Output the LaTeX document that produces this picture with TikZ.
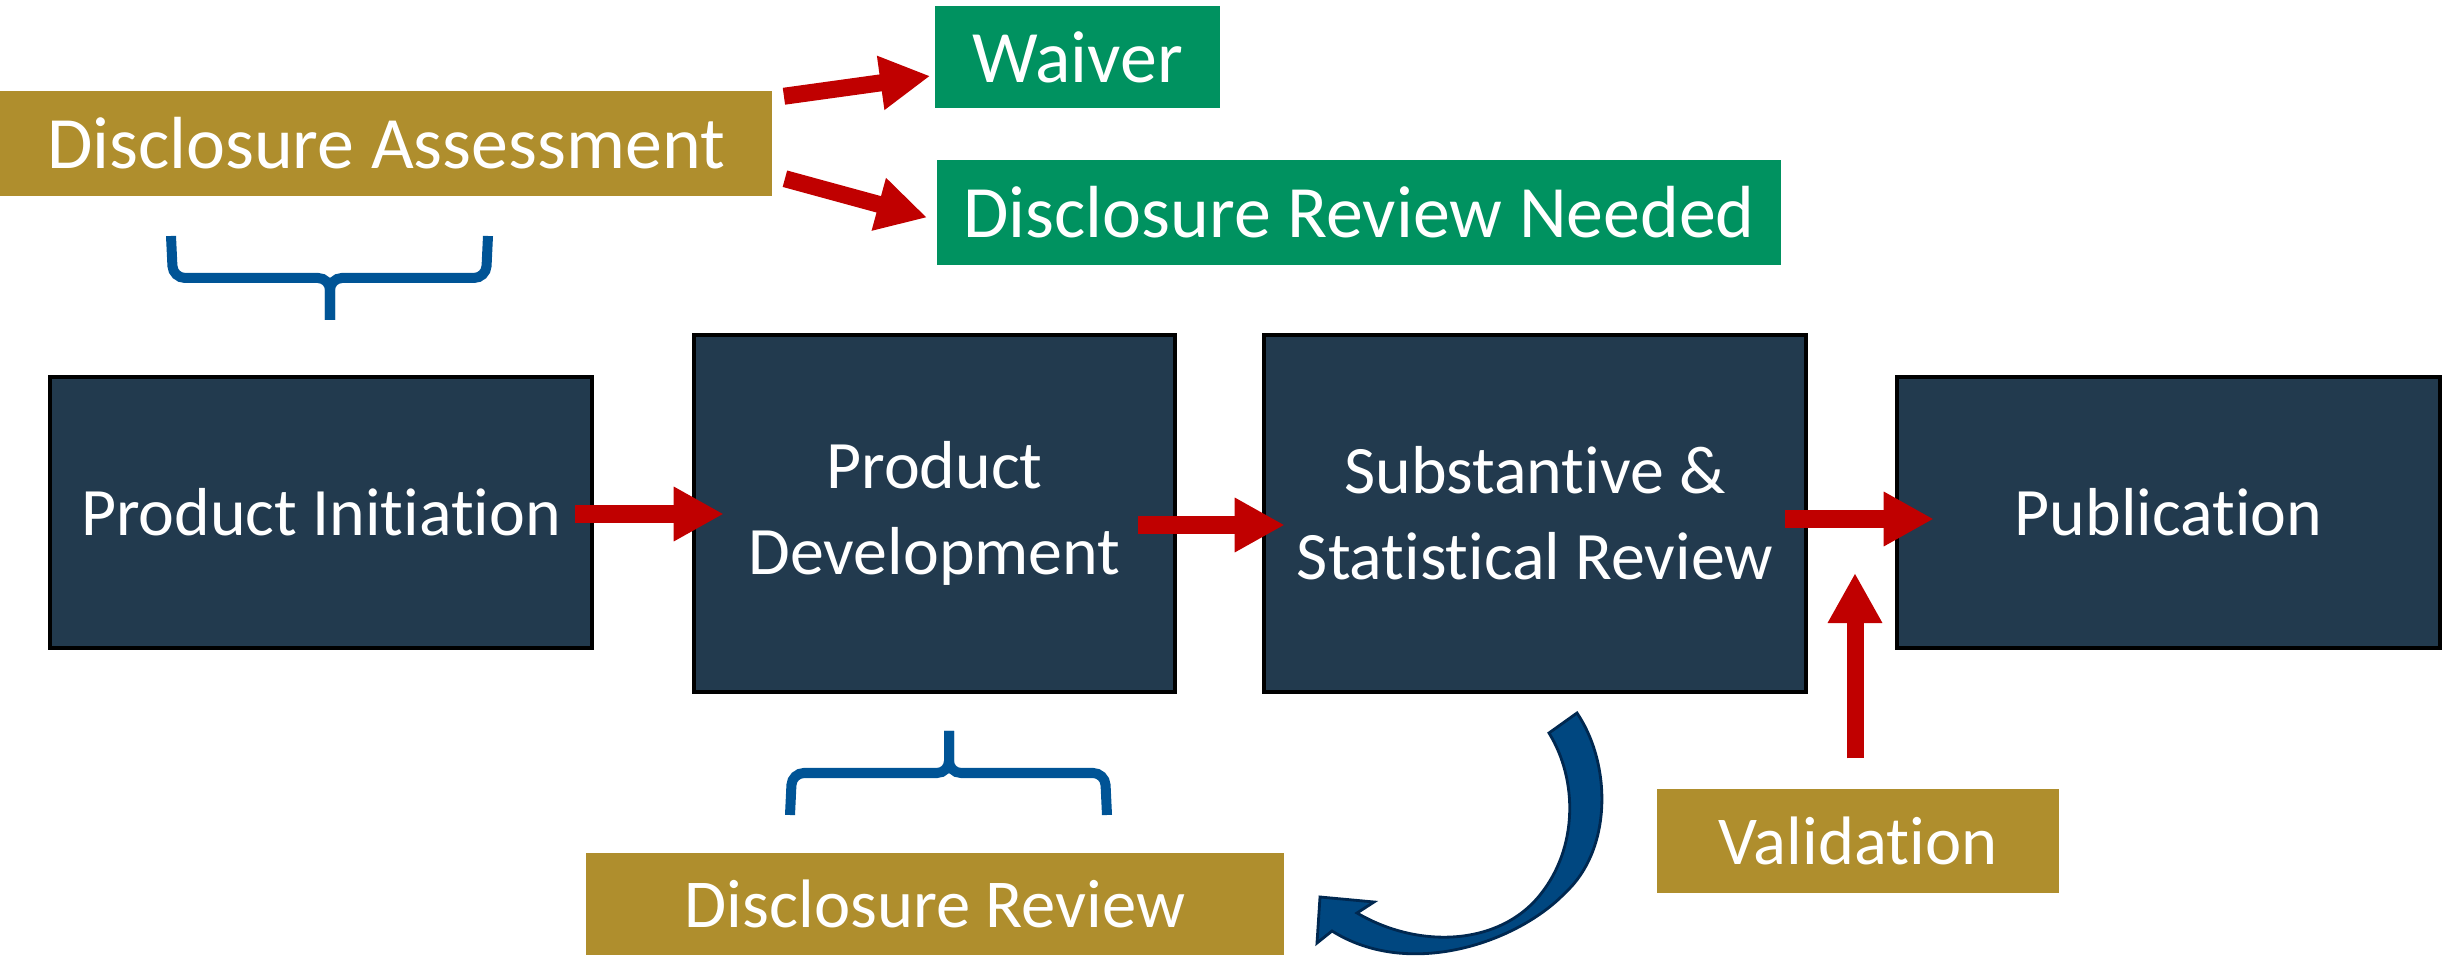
\documentclass[tikz,border=0pt]{standalone}
\usepackage{fontspec}
\setmainfont{Carlito}[Ligatures=NoCommon]
\usepackage{tikz}
\definecolor{Slate}{RGB}{34,58,78}
\definecolor{Ochre}{RGB}{175,142,45}
\definecolor{Jade}{RGB}{0,146,96}
\definecolor{Crimson}{RGB}{192,0,0}
\definecolor{Cobalt}{RGB}{0,84,150}
\definecolor{Navyline}{RGB}{0,40,80}
\usetikzlibrary{arrows.meta}

\begin{document}
\begin{tikzpicture}[x=0.01cm,y=-0.01cm,
stage/.style={draw=black,line width=1.2pt,fill=Slate,text=white,align=center,inner sep=0pt,font=\fontsize{19.3}{24.5}\selectfont},
tag/.style={fill=Ochre,text=white,inner sep=0pt,font=\fontsize{19.5}{23}\selectfont},
outcome/.style={fill=Jade,text=white,inner sep=0pt,font=\fontsize{21}{25}\selectfont},
push/.style={Crimson,line width=0.17cm,-{Triangle[length=0.5cm,width=0.51cm]}},
brace/.style={Cobalt,line width=0.1cm,rounded corners=0.12cm}]
\useasboundingbox (0,0) rectangle (2456,958);

%%assessment and its outcomes
\node[tag,minimum width=7.72cm,minimum height=1.05cm,font=\fontsize{21}{25}\selectfont] (assess) at (386,143.5) {Disclosure Assessment};
\node[outcome,minimum width=2.85cm,minimum height=1.02cm] (waiver) at (1077.5,57) {Waiver};
\node[outcome,minimum width=8.44cm,minimum height=1.05cm] (needed) at (1359,212.5) {Disclosure Review Needed};

%%stages
\node[stage,minimum width=5.42cm,minimum height=2.71cm] (init) at (321,512.5) {Product Initiation};
\node[stage,minimum width=4.81cm,minimum height=3.57cm] (develop) at (934.5,513.5) {Product\\Development};
\node[stage,minimum width=5.42cm,minimum height=3.57cm] (subst) at (1535,513.5) {Substantive \&\\Statistical Review};
\node[stage,minimum width=5.43cm,minimum height=2.71cm] (publish) at (2168.5,512.5) {Publication};

%%checks below
\node[tag,minimum width=4.02cm,minimum height=1.04cm] (valid) at (1858,841) {Validation};
\node[tag,minimum width=6.98cm,minimum height=1.02cm] (review) at (935,904) {Disclosure Review};
\coordinate (valtip) at (1855,573);

%%red arrows
\draw[push] ([shift={(11,6)}]assess.north east) -- ([shift={(-4,19)}]waiver.west);
\draw[push] ([shift={(12,-18)}]assess.south east) -- ([shift={(-9,5)}]needed.west);
\draw[push] ([shift={(-19,1.5)}]init.east) -- ([shift={(32,0.5)}]develop.west);
\draw[push] ([shift={(-39,11.5)}]develop.east) -- ([shift={(23,11.5)}]subst.west);
\draw[push] ([shift={(-23,5.5)}]subst.east) -- ([shift={(39,6.5)}]publish.west);
\draw[push] ([shift={(-3,-30)}]valid.north) -- (valtip);

%%braces
\draw[brace] (171,236) -- (173,278) -- (330,278) -- (330,320);
\draw[brace] (488,236) -- (486,278) -- (330,278) -- (330,320);
\draw[brace] (790,815) -- (792,773) -- (949,773) -- (949,731);
\draw[brace] (1107,815) -- (1105,773) -- (949,773) -- (949,731);

%%curved arrow back to disclosure review
\filldraw[fill=Cobalt!85!black,draw=Navyline,line width=0.8pt]
(1577,713) .. controls (1612,765) and (1612,850) .. (1565,893)
.. controls (1518,942) and (1410,980) .. (1332,931)
-- (1317,943) -- (1320,897) -- (1374,902) -- (1357,913)
.. controls (1420,950) and (1500,945) .. (1540,895)
.. controls (1578,848) and (1578,780) .. (1549,733) -- cycle;
\end{tikzpicture}
\end{document}
